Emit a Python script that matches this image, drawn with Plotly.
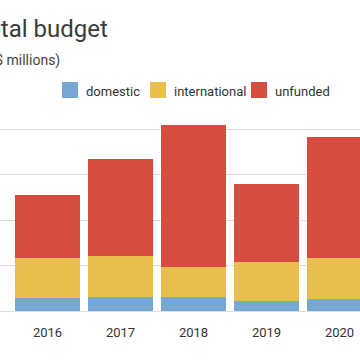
import plotly.graph_objects as go

years = ["2016", "2017", "2018", "2019", "2020"]
domestic = [29, 31, 31, 22, 26]
international = [87, 90, 65, 87, 90]
unfunded = [140, 214, 313, 170, 268]

series_names = ["domestic", "international", "unfunded"]
series_values = [domestic, international, unfunded]
series_colors = ["#79a7d3", "#e8bf4f", "#d74c40"]

title_text = "Total budget"
subtitle_text = "(US$ millions)"

W, H = 360, 360
ML, MR, MT, MB = 0, 0, 115, 49
PH = H - MT - MB

def px_to_paper_y(py):
    return (H - MB - py) / PH

def px_to_paper_x(px):
    return px / (W - ML - MR)

fig = go.Figure()
for name, vals, col in zip(series_names, series_values, series_colors):
    fig.add_trace(go.Bar(x=years, y=vals, name=name, marker=dict(color=col, line=dict(width=0)),
                         showlegend=False))

annotations = [
    dict(text=title_text, xref="paper", yref="paper", x=px_to_paper_x(-28), y=px_to_paper_y(29),
         xanchor="left", yanchor="middle", showarrow=False,
         font=dict(family="Roboto", size=24, color="#3a3a3a")),
    dict(text=subtitle_text, xref="paper", yref="paper", x=px_to_paper_x(-29), y=px_to_paper_y(60),
         xanchor="left", yanchor="middle", showarrow=False,
         font=dict(family="Roboto", size=14, color="#444444")),
]
shapes = []
legend_x = [62, 150, 251]
for name, col, lx in zip(series_names, series_colors, legend_x):
    shapes.append(dict(type="rect", xref="paper", yref="paper",
                       x0=px_to_paper_x(lx), x1=px_to_paper_x(lx + 16),
                       y0=px_to_paper_y(98), y1=px_to_paper_y(82),
                       fillcolor=col, line=dict(width=0)))
    annotations.append(dict(text=name, xref="paper", yref="paper", x=px_to_paper_x(lx + 22),
                            y=px_to_paper_y(91), xanchor="left", yanchor="middle", showarrow=False,
                            font=dict(family="Roboto", size=13, color="#333333")))

fig.update_layout(
    width=W, height=H,
    margin=dict(l=ML, r=MR, t=MT, b=MB, pad=0),
    barmode="stack", bargap=0.11,
    plot_bgcolor="white", paper_bgcolor="white",
    font=dict(family="Roboto", color="#333333"),
    annotations=annotations, shapes=shapes,
    showlegend=False,
)
fig.update_xaxes(range=[-0.651, 4.281], showgrid=False, showline=False, ticks="",
                 tickfont=dict(size=13, color="#333333"), ticklabelstandoff=12, fixedrange=True)
fig.update_yaxes(range=[0, 432], dtick=100, showgrid=True, gridcolor="#dddddd", gridwidth=1,
                 zeroline=True, zerolinecolor="#dddddd", zerolinewidth=1,
                 showticklabels=False, ticks="", fixedrange=True)

fig.write_html("out.html", config={"displayModeBar": False},
               post_script="document.body.style.margin='0';document.body.style.overflow='hidden';")
